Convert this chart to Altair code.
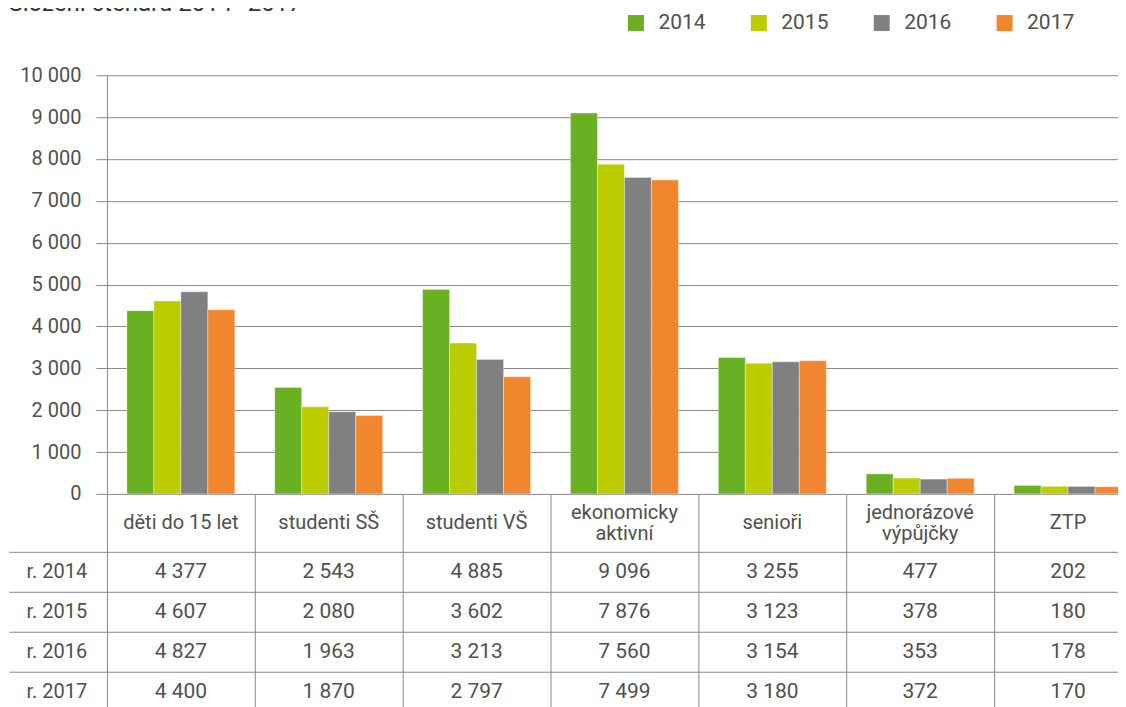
import altair as alt
import pandas as pd

categories = ["děti do 15 let", "studenti SŠ", "studenti VŠ", "ekonomicky aktivní",
              "senioři", "jednorázové výpůjčky", "ZTP"]
header_labels = ["děti do 15 let", "studenti SŠ", "studenti VŠ", "ekonomicky\naktivní",
                 "senioři", "jednorázové\nvýpůjčky", "ZTP"]
years = ["2014", "2015", "2016", "2017"]
row_labels = ["r. 2014", "r. 2015", "r. 2016", "r. 2017"]
v2014 = [4377, 2543, 4885, 9096, 3255, 477, 202]
v2015 = [4607, 2080, 3602, 7876, 3123, 378, 180]
v2016 = [4827, 1963, 3213, 7560, 3154, 353, 178]
v2017 = [4400, 1870, 2797, 7499, 3180, 372, 170]
y_ticks = [0, 1000, 2000, 3000, 4000, 5000, 6000, 7000, 8000, 9000, 10000]
colors = ["#6AB023", "#BBCC00", "#808080", "#F0872E"]

records = []
for yr, rl, vals in zip(years, row_labels, [v2014, v2015, v2016, v2017]):
    for c, v in zip(categories, vals):
        records.append({"cat": c, "year": yr, "value": v, "row": rl,
                        "txt": f"{v:,}".replace(",", " ")})
df = pd.DataFrame(records)
hdr = pd.DataFrame({"cat": categories, "label": header_labels,
                    "lines": [lbl.count("\n") + 1 for lbl in header_labels]})

FONT = "Roboto"
TXT = "#505050"
LINE = "#888888"
W = 1036

bars = alt.Chart(df).mark_bar(stroke="white", strokeWidth=0.6, strokeOpacity=0.6).encode(
    x=alt.X("cat:N", sort=categories, axis=None,
            scale=alt.Scale(paddingInner=0.27, paddingOuter=0.135)),
    xOffset=alt.XOffset("year:N", sort=years, scale=alt.Scale(paddingInner=0, paddingOuter=0)),
    y=alt.Y("value:Q", scale=alt.Scale(domain=[0, 10000], nice=False),
            axis=alt.Axis(values=y_ticks, title=None,
                          labelExpr="replace(format(datum.value, ','), ',', ' ')",
                          grid=True, gridColor=LINE, domainColor=LINE, tickColor=LINE,
                          tickSize=11, labelPadding=15, labelFontSize=20,
                          labelColor=TXT, labelFont=FONT)),
    color=alt.Color("year:N", sort=years, scale=alt.Scale(domain=years, range=colors),
                    legend=alt.Legend(title=None, orient="none", legendX=519, legendY=-63,
                                      direction="horizontal", symbolType="square",
                                      symbolSize=256, symbolStrokeWidth=0,
                                      labelFontSize=21, labelFont=FONT, labelColor=TXT,
                                      labelOffset=12, columnPadding=42)),
).properties(width=W, height=419)

hx = alt.X("cat:N", sort=categories, scale=alt.Scale(paddingInner=0, paddingOuter=0),
           axis=alt.Axis(grid=True, tickBand="extent", labels=False, ticks=False,
                         domain=False, title=None, gridColor=LINE))
hbase = alt.Chart(hdr).encode(x=hx, text="label:N")
header = alt.layer(
    hbase.transform_filter("datum.lines == 1").mark_text(
        fontSize=20, font=FONT, color=TXT),
    hbase.transform_filter("datum.lines == 2").mark_text(
        fontSize=20, font=FONT, color=TXT, lineBreak="\n", lineHeight=21, dy=-10),
).properties(width=W, height=58)

table = alt.Chart(df).mark_text(fontSize=21, font=FONT, color=TXT).encode(
    x=alt.X("cat:N", sort=categories, scale=alt.Scale(paddingInner=0, paddingOuter=0),
            axis=alt.Axis(grid=True, tickBand="extent", labels=False, ticks=False,
                          domain=False, title=None, gridColor=LINE)),
    y=alt.Y("row:N", sort=row_labels, scale=alt.Scale(paddingInner=0, paddingOuter=0),
            axis=alt.Axis(title=None, tickBand="extent", tickSize=98, tickColor=LINE,
                          labelAlign="left", labelPadding=-17,
                          grid=True, gridColor=LINE, domain=False,
                          labelFontSize=20, labelFont=FONT, labelColor=TXT)),
    text="txt:N",
).properties(width=W, height=160)

chart = alt.vconcat(bars, header, table, spacing=0, bounds="flush").resolve_scale(
    x="independent"
).properties(
    title=alt.TitleParams("Složení čtenářů 2014–2017", anchor="start", fontSize=24,
                          font=FONT, color="#333333", fontWeight="normal", offset=-4),
    padding={"top": -16, "left": 0, "right": -24, "bottom": 0},
).configure_view(strokeWidth=0)

chart.save("out.html", embed_options={"renderer": "svg", "actions": False})
